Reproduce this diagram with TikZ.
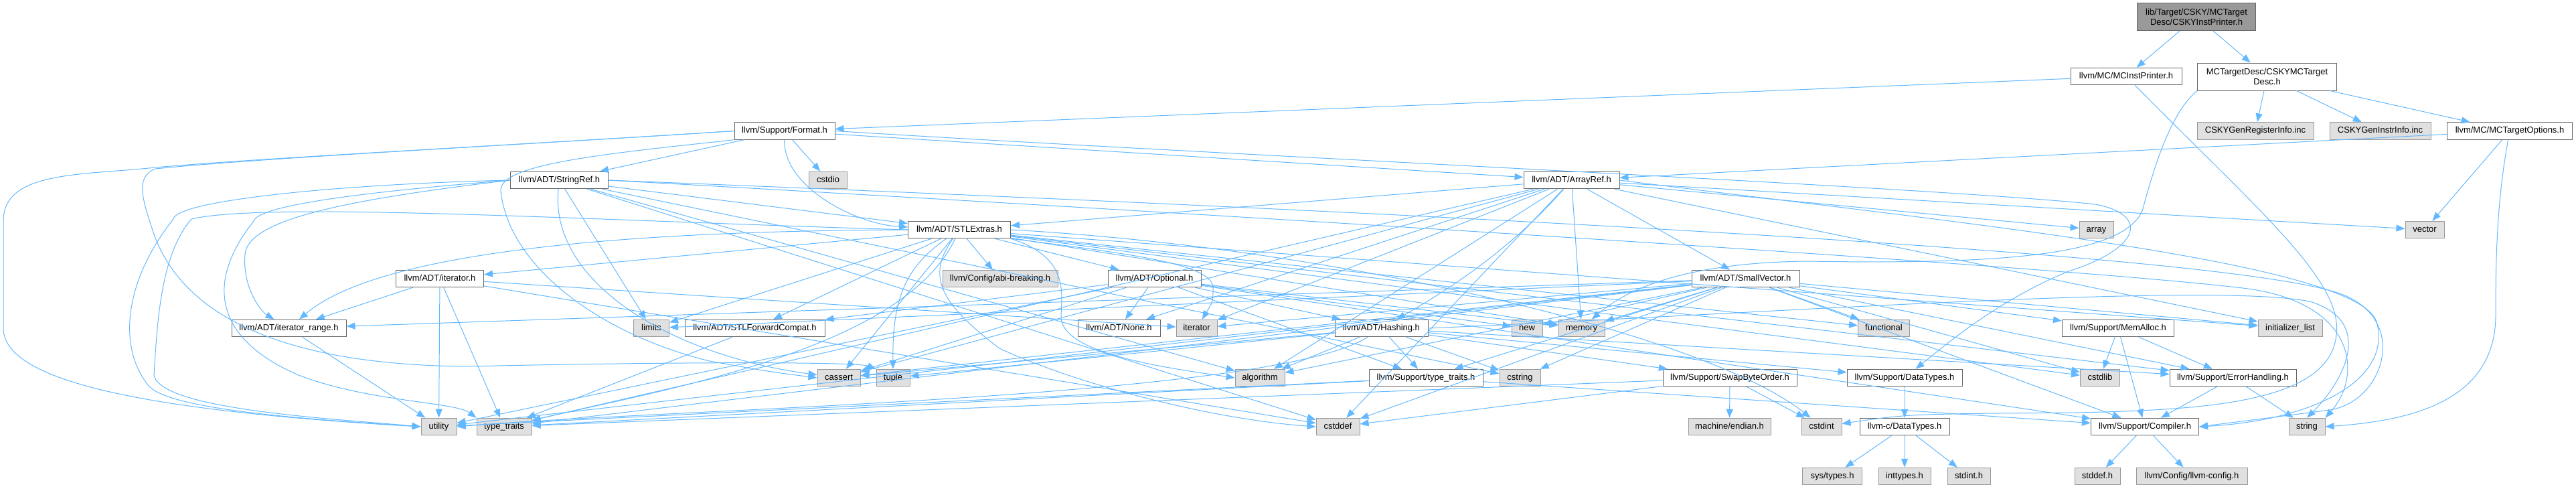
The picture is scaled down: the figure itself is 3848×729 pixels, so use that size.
\documentclass[tikz,border=0pt]{standalone}
\usepackage{fontspec}
\setmainfont{Liberation Sans}
\usetikzlibrary{arrows.meta}
\definecolor{edgeblue}{RGB}{99,184,255}
\definecolor{hdrgray}{RGB}{102,102,102}
\definecolor{sysgray}{RGB}{153,153,153}
\definecolor{sysfill}{RGB}{224,224,224}
\definecolor{mainfill}{RGB}{153,153,153}

\tikzset{
  hdr/.style={draw=hdrgray, fill=white, line width=1pt, inner sep=0pt,
    minimum height=25.5pt, text height=9.4pt, text depth=2.6pt,
    font=\fontsize{13}{15}\selectfont},
  sysinc/.style={hdr, draw=sysgray, fill=sysfill},
  twoline/.style={hdr, align=center, minimum height=41pt, text height={}, text depth={}},
  mainhdr/.style={twoline, fill=mainfill},
  incl/.style={draw=edgeblue, line width=1pt, -{Triangle[length=13pt,width=10pt]}},
}

\begin{document}
\begin{tikzpicture}[x=1pt, y=-1pt]
  \useasboundingbox (0,0) rectangle (3848,729);

  % file itself and its direct includes
  \node[mainhdr, minimum width=177pt] (csky) at (3281,25) {lib/Target/CSKY/MCTarget\\Desc/CSKYInstPrinter.h};
  \node[hdr, minimum width=166pt] (mcip) at (3176,114) {llvm/MC/MCInstPrinter.h};
  \node[twoline, minimum width=208pt] (mctd) at (3386.5,114.5) {MCTargetDesc/CSKYMCTarget\\Desc.h};

  % rank 2
  \node[hdr, minimum width=150pt] (fmt) at (1172,195.5) {llvm/Support/Format.h};
  \node[sysinc, minimum width=174pt] (reginc) at (3369,195.5) {CSKYGenRegisterInfo.inc};
  \node[sysinc, minimum width=151pt] (instinc) at (3555.5,195.5) {CSKYGenInstrInfo.inc};
  \node[hdr, minimum width=187pt] (mcto) at (3749,195.5) {llvm/MC/MCTargetOptions.h};

  % rank 3
  \node[hdr, minimum width=146pt] (strref) at (835.5,269) {llvm/ADT/StringRef.h};
  \node[sysinc, minimum width=57pt] (cstdio) at (1237,269) {cstdio};
  \node[hdr, minimum width=143pt] (arrref) at (2347.5,269) {llvm/ADT/ArrayRef.h};

  % rank 4
  \node[hdr, minimum width=153pt] (stlx) at (1433,343) {llvm/ADT/STLExtras.h};
  \node[sysinc, minimum width=51pt] (array) at (3131.5,343) {array};
  \node[sysinc, minimum width=58pt] (vector) at (3622,343) {vector};

  % rank 5
  \node[hdr, minimum width=131pt] (iter) at (657,416) {llvm/ADT/iterator.h};
  \node[sysinc, minimum width=172pt] (abi) at (1494,416) {llvm/Config/abi-breaking.h};
  \node[hdr, minimum width=139pt] (opt) at (1724.5,416) {llvm/ADT/Optional.h};
  \node[hdr, minimum width=161pt] (smallvec) at (2607.5,416) {llvm/ADT/SmallVector.h};

  % rank 6
  \node[hdr, minimum width=171pt] (itrange) at (431.5,490) {llvm/ADT/iterator\_range.h};
  \node[sysinc, minimum width=53pt] (limits) at (973,490) {limits};
  \node[hdr, minimum width=209pt] (stlfc) at (1127.5,490) {llvm/ADT/STLForwardCompat.h};
  \node[hdr, minimum width=123pt] (none) at (1671.5,490) {llvm/ADT/None.h};
  \node[sysinc, minimum width=61pt] (iterator) at (1787.5,490) {iterator};
  \node[hdr, minimum width=139pt] (hashing) at (2063.5,490) {llvm/ADT/Hashing.h};
  \node[sysinc, minimum width=46pt] (new) at (2281,490) {new};
  \node[sysinc, minimum width=69pt] (memory) at (2362.5,490) {memory};
  \node[sysinc, minimum width=77pt] (functional) at (2814,490) {functional};
  \node[hdr, minimum width=167pt] (memalloc) at (3164,490) {llvm/Support/MemAlloc.h};
  \node[sysinc, minimum width=96pt] (initlist) at (3421,490) {initializer\_list};

  % rank 7
  \node[sysinc, minimum width=64pt] (cassert) at (1253,564) {cassert};
  \node[sysinc, minimum width=50pt] (tuple) at (1334,564) {tuple};
  \node[sysinc, minimum width=74pt] (algorithm) at (1882,564) {algorithm};
  \node[hdr, minimum width=170pt] (stypetr) at (2130,564) {llvm/Support/type\_traits.h};
  \node[sysinc, minimum width=61pt] (cstring) at (2270.5,564) {cstring};
  \node[hdr, minimum width=200pt] (swapbo) at (2584,564) {llvm/Support/SwapByteOrder.h};
  \node[hdr, minimum width=172pt] (datatypes) at (2845,564) {llvm/Support/DataTypes.h};
  \node[sysinc, minimum width=59pt] (cstdlib) at (3137,564) {cstdlib};
  \node[hdr, minimum width=189pt] (errh) at (3335.5,564) {llvm/Support/ErrorHandling.h};

  % rank 8
  \node[sysinc, minimum width=53pt] (utility) at (655.5,637) {utility};
  \node[sysinc, minimum width=82pt] (typetr) at (753,637) {type\_traits};
  \node[sysinc, minimum width=65pt] (cstddef) at (1998.5,637) {cstddef};
  \node[sysinc, minimum width=123pt] (endian) at (2583.5,637) {machine/endian.h};
  \node[sysinc, minimum width=60pt] (cstdint) at (2721,637) {cstdint};
  \node[hdr, minimum width=134pt] (cdatatypes) at (2845,637) {llvm-c/DataTypes.h};
  \node[hdr, minimum width=161pt] (compiler) at (3204,637) {llvm/Support/Compiler.h};
  \node[sysinc, minimum width=54pt] (string) at (3446,637) {string};

  % rank 9
  \node[sysinc, minimum width=89pt] (systypes) at (2737,711) {sys/types.h};
  \node[sysinc, minimum width=78pt] (inttypes) at (2845,711) {inttypes.h};
  \node[sysinc, minimum width=64pt] (stdint) at (2941,711) {stdint.h};
  \node[sysinc, minimum width=68pt] (stddef) at (3133,711) {stddef.h};
  \node[sysinc, minimum width=166pt] (llvmconfig) at (3274,711) {llvm/Config/llvm-config.h};

  % top includes
  \draw[incl] (csky) -- (mcip);
  \draw[incl] (csky) -- (mctd);
  \draw[incl] (mctd) -- (reginc);
  \draw[incl] (mctd) -- (instinc);
  \draw[incl] (mctd) -- (mcto);
  \draw[incl] (mctd.south west) .. controls (3240,170) and (3215,260) .. (3200,315)
    .. controls (3170,380) and (3000,395) .. (2700,390) .. controls (2500,392) and (2420,440) .. (memory);
  \draw[incl] (mcip) -- (fmt);
  \draw[incl] (mcip) .. controls (3380,320) and (3500,420) .. (3490,500)
    .. controls (3480,600) and (3300,612) .. (3100,616) .. controls (2850,618) .. (cstdint);
  \draw[incl] (mcto) -- (arrref);
  \draw[incl] (mcto) -- (vector);
  \draw[incl] (mcto) .. controls (3730,300) and (3728,380) .. (3728,470)
    .. controls (3728,600) and (3600,628) .. (string.east);

  % Format.h
  \draw[incl] (fmt) -- (arrref);
  \draw[incl] (fmt) -- (strref);
  \draw[incl] (fmt) -- (cstdio);
  \draw[incl] (fmt) .. controls (1170,280) and (1280,335) .. (stlx);
  \draw[incl] (fmt.east) .. controls (1800,230) and (2900,280) .. (3130,305)
    .. controls (3210,320) and (3200,370) .. (3090,405) .. controls (2980,450) and (2900,520) .. (datatypes);
  \draw[incl] (fmt.west) .. controls (800,215) and (400,235) .. (232,250)
    .. controls (120,262) and (5,255) .. (5,330) -- (5,490) .. controls (5,575) and (250,615) .. (utility.west);
  \draw[incl] (fmt.west) .. controls (800,215) and (400,235) .. (232,252)
    .. controls (200,265) and (214,300) .. (230,350) .. controls (270,460) and (400,545) .. (700,547)
    .. controls (1000,540) and (1280,540) .. (tuple.north west);
  \draw[incl] (fmt.south west) .. controls (900,230) and (745,245) .. (748,285)
    .. controls (760,400) and (900,500) .. (1060,539) .. controls (1150,555) .. (cassert.west);

  % StringRef.h
  \draw[incl] (strref) -- (stlx);
  \draw[incl] (strref) -- (algorithm);
  \draw[incl] (strref) -- (cstddef);
  \draw[incl] (strref) -- (cstring);
  \draw[incl] (strref) -- (limits);
  \draw[incl] (strref) .. controls (820,420) and (1000,530) .. (cassert);
  \draw[incl] (strref.west) .. controls (500,275) and (262,300) .. (259,327)
    .. controls (185,420) and (175,520) .. (223,577) .. controls (260,615) and (500,628) .. (utility.west);
  \draw[incl] (strref.west) .. controls (500,290) and (385,310) .. (379,330)
    .. controls (300,430) and (330,510) .. (446,560) .. controls (550,600) and (680,600) .. (typetr.north west);
  \draw[incl] (strref.west) .. controls (500,300) and (370,330) .. (366,380)
    .. controls (362,430) and (390,465) .. (itrange);
  \draw[incl] (strref.east) .. controls (2000,330) and (3100,400) .. (3350,430)
    .. controls (3520,450) and (3530,560) .. (string.north east);
  \draw[incl] (strref.east) .. controls (2200,320) and (3350,380) .. (3500,440)
    .. controls (3600,480) and (3560,600) .. (3480,612) .. controls (3380,625) .. (compiler.east);

  % STLExtras.h
  \draw[incl] (stlx) -- (opt);
  \draw[incl] (stlx) -- (stlfc);
  \draw[incl] (stlx) -- (iter);
  \draw[incl] (stlx) -- (abi);
  \draw[incl] (stlx) -- (errh);
  \draw[incl] (stlx) -- (cassert);
  \draw[incl] (stlx) -- (cstdlib);
  \draw[incl] (stlx) -- (functional);
  \draw[incl] (stlx) -- (initlist);
  \draw[incl] (stlx) -- (limits);
  \draw[incl] (stlx) -- (memory);
  \draw[incl] (stlx) .. controls (1350,400) and (1333,450) .. (tuple);
  \draw[incl] (stlx) .. controls (1385,410) and (1400,450) .. (1493,520)
    .. controls (1600,570) and (1800,625) .. (cstddef.west);
  \draw[incl] (stlx.south east) .. controls (1600,385) and (1585,440) .. (1585,475)
    .. controls (1590,530) and (1750,550) .. (algorithm.west);
  \draw[incl] (stlx.south east) .. controls (1700,380) and (1812,395) .. (1812,430)
    .. controls (1812,450) .. (iterator);
  \draw[incl] (stlx.east) .. controls (2000,370) and (2550,500) .. (cstdint);
  \draw[incl] (stlx) .. controls (1350,520) and (1000,580) .. (typetr);
  \draw[incl] (stlx.west) .. controls (900,345) and (560,380) .. (itrange);
  \draw[incl] (stlx.west) .. controls (900,330) and (400,300) .. (286,327)
    .. controls (240,380) and (235,480) .. (230,560) .. controls (240,612) and (500,625) .. (utility.west);

  % Optional.h
  \draw[incl] (opt) -- (hashing);
  \draw[incl] (opt) -- (none);
  \draw[incl] (opt) -- (stlfc);
  \draw[incl] (opt) -- (compiler);
  \draw[incl] (opt) -- (stypetr);
  \draw[incl] (opt) -- (cassert);
  \draw[incl] (opt) -- (memory);
  \draw[incl] (opt) -- (new);
  \draw[incl] (opt) -- (utility);

  % iterator.h and friends
  \draw[incl] (iter) -- (itrange);
  \draw[incl] (iter) -- (cstddef);
  \draw[incl] (iter) -- (iterator);
  \draw[incl] (iter) -- (typetr);
  \draw[incl] (iter) -- (utility);
  \draw[incl] (itrange) -- (utility);
  \draw[incl] (stlfc) -- (typetr);

  % Hashing.h
  \draw[incl] (hashing) -- (datatypes);
  \draw[incl] (hashing) -- (errh);
  \draw[incl] (hashing) -- (swapbo);
  \draw[incl] (hashing) -- (stypetr);
  \draw[incl] (hashing) -- (algorithm);
  \draw[incl] (hashing) -- (cassert);
  \draw[incl] (hashing) -- (cstring);
  \draw[incl] (hashing) -- (tuple);
  \draw[incl] (hashing) .. controls (1900,595) and (1000,610) .. (utility.east);
  \draw[incl] (hashing.east) .. controls (2600,470) and (3300,420) .. (3450,450)
    .. controls (3550,480) and (3500,570) .. (string.north);

  % support headers
  \draw[incl] (stypetr) -- (compiler);
  \draw[incl] (stypetr) -- (typetr);
  \draw[incl] (stypetr) -- (utility);
  \draw[incl] (swapbo) -- (cstddef);
  \draw[incl] (swapbo) -- (cstdint);
  \draw[incl] (swapbo) -- (typetr);
  \draw[incl] (swapbo) -- (endian);
  \draw[incl] (datatypes) -- (cdatatypes);
  \draw[incl] (cdatatypes) -- (inttypes);
  \draw[incl] (cdatatypes) -- (stdint);
  \draw[incl] (cdatatypes) -- (systypes);
  \draw[incl] (compiler) -- (llvmconfig);
  \draw[incl] (compiler) -- (stddef);
  \draw[incl] (errh) -- (compiler);
  \draw[incl] (errh) -- (string);
  \draw[incl] (memalloc) -- (compiler);
  \draw[incl] (memalloc) -- (errh);
  \draw[incl] (memalloc) -- (cstdlib);

  % ArrayRef.h
  \draw[incl] (arrref) .. controls (2250,380) and (2150,440) .. (hashing);
  \draw[incl] (arrref) -- (none);
  \draw[incl] (arrref) -- (smallvec);
  \draw[incl] (arrref) -- (stlx);
  \draw[incl] (arrref) -- (algorithm);
  \draw[incl] (arrref) -- (array);
  \draw[incl] (arrref) -- (cassert);
  \draw[incl] (arrref) -- (cstddef);
  \draw[incl] (arrref) -- (initlist);
  \draw[incl] (arrref) -- (iterator);
  \draw[incl] (arrref) -- (memory);
  \draw[incl] (arrref) -- (typetr);
  \draw[incl] (arrref) -- (vector);
  \draw[incl] (arrref.east) .. controls (2900,330) and (3520,390) .. (3550,480)
    .. controls (3575,570) and (3450,628) .. (compiler.east);

  % SmallVector.h
  \draw[incl] (smallvec) -- (itrange);
  \draw[incl] (smallvec) -- (compiler);
  \draw[incl] (smallvec) -- (errh);
  \draw[incl] (smallvec) -- (memalloc);
  \draw[incl] (smallvec) -- (stypetr);
  \draw[incl] (smallvec) -- (algorithm);
  \draw[incl] (smallvec) -- (cassert);
  \draw[incl] (smallvec) -- (cstddef);
  \draw[incl] (smallvec) -- (cstdlib);
  \draw[incl] (smallvec) -- (cstring);
  \draw[incl] (smallvec) -- (functional);
  \draw[incl] (smallvec) -- (initlist);
  \draw[incl] (smallvec) -- (iterator);
  \draw[incl] (smallvec) -- (limits);
  \draw[incl] (smallvec) -- (memory);
  \draw[incl] (smallvec) -- (new);
  \draw[incl] (smallvec) -- (typetr);
  \draw[incl] (smallvec) -- (utility);
\end{tikzpicture}
\end{document}
